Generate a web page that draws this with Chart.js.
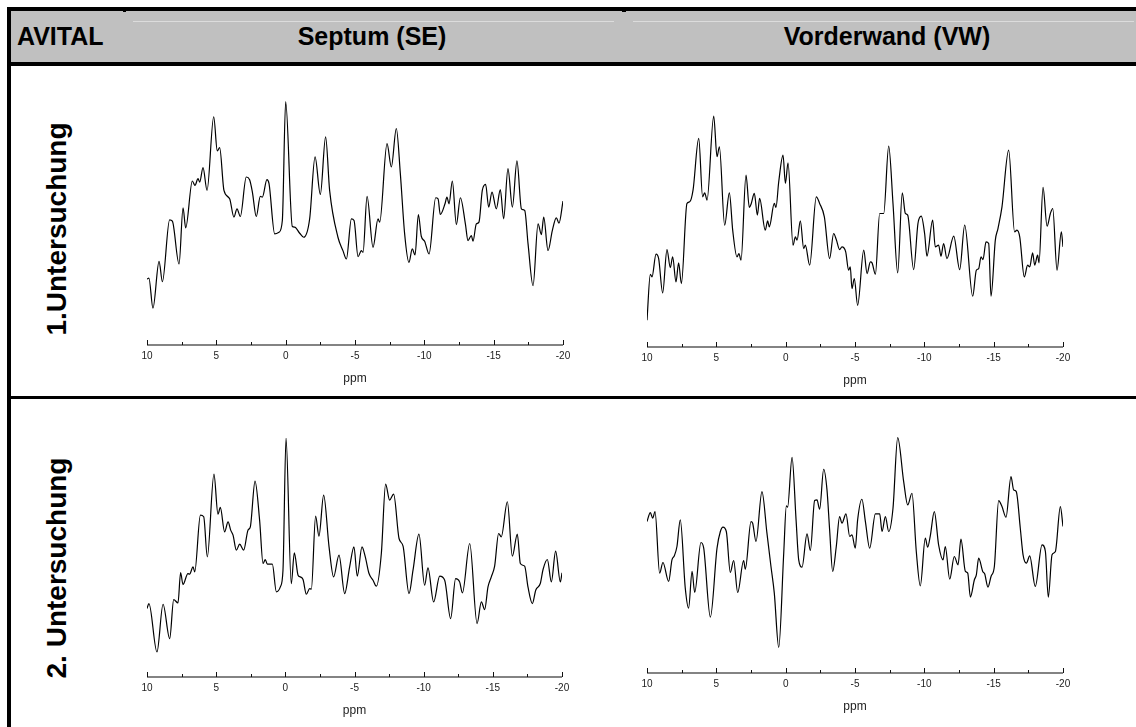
<!DOCTYPE html>
<html>
<head>
<meta charset="utf-8">
<title>AVITAL Spektren</title>
<script src="https://cdn.jsdelivr.net/npm/chart.js@4.4.0/dist/chart.umd.min.js"></script>
<style>
body { margin:0; width:1136px; height:727px; background:#fff; position:relative; overflow:hidden;
       font-family:"Liberation Sans", Arial, sans-serif; }
.abs { position:absolute; }
.blk { position:absolute; background:#000; }
.head { position:absolute; font-weight:bold; font-size:25px; line-height:25px; color:#000; white-space:nowrap; }
.rowlbl { position:absolute; width:300px; height:28px; line-height:28px; font-size:28px; font-weight:bold;
          text-align:center; transform:rotate(-90deg); white-space:nowrap; }
canvas { position:absolute; }
</style>
</head>
<body>

<!-- table frame -->
<div class="abs" style="left:11px;top:11px;width:1125px;height:51px;background:#c0c0c0"></div>
<div class="abs" style="left:133px;top:21px;width:481px;height:1px;background:#dcdcdc"></div>
<div class="abs" style="left:633px;top:21px;width:501px;height:1px;background:#dcdcdc"></div>
<div class="blk" style="left:7px;top:7px;width:1129px;height:4px"></div>
<div class="blk" style="left:123px;top:11px;width:3px;height:1px"></div>
<div class="blk" style="left:622px;top:11px;width:4px;height:1px"></div>
<div class="blk" style="left:7px;top:62px;width:1129px;height:4px"></div>
<div class="blk" style="left:7px;top:7px;width:4px;height:720px"></div>
<div class="blk" style="left:11px;top:396px;width:1125px;height:3px"></div>

<div id="hdr"></div>
<div id="rows"></div>

<canvas id="c1"></canvas>
<canvas id="c2"></canvas>
<canvas id="c3"></canvas>
<canvas id="c4"></canvas>

<script>
// header / row texts
var title = 'AVITAL';
var columns = ['Septum (SE)', 'Vorderwand (VW)'];
var rows = ['1.Untersuchung', '2. Untersuchung'];

// 1. Untersuchung, Septum  (ppm / intensity)
var ppmSE1 = [10.00, 9.86, 9.57, 9.13, 8.89, 8.37, 8.17, 7.69, 7.40, 7.21, 6.73, 6.54, 6.32, 6.20, 5.96, 5.67, 5.19, 4.93, 4.76, 4.45,
  4.04, 3.73, 3.51, 3.27, 2.84, 2.60, 2.40, 2.12, 1.83, 1.68, 1.35, 1.20, 0.79, 0.48, 0.24, 0.00, -0.48, -0.65, -1.01, -1.30,
  -1.73, -2.12, -2.50, -2.88, -3.17, -3.77, -4.13, -4.38, -4.74, -4.93, -5.22, -5.46, -5.58, -5.87, -6.30, -6.66, -6.78, -7.31, -7.62, -7.98,
  -8.27, -8.58, -8.89, -9.13, -9.33, -9.57, -9.78, -10.02, -10.34, -10.82, -10.99, -11.15, -11.49, -11.63, -11.78, -12.02, -12.31, -12.60, -12.96, -13.15,
  -13.39, -13.51, -13.75, -13.94, -14.18, -14.42, -14.64, -14.88, -15.19, -15.48, -15.72, -16.03, -16.35, -16.68, -17.00, -17.24, -17.48, -17.84, -18.20, -18.44,
  -18.61, -18.92, -19.23, -19.52, -19.71, -20.00];
var valSE1 = [13.5, 13.8, 4.8, 18.8, 12.7, 31.2, 30.8, 18.0, 34.8, 28.8, 42.8, 41.5, 43.5, 42.5, 46.8, 40.0, 62.0, 51.8, 52.8, 40.0,
  37.5, 32.0, 34.5, 32.2, 44.0, 43.2, 39.5, 32.2, 38.2, 38.0, 43.2, 42.0, 27.0, 27.5, 31.0, 66.5, 29.2, 29.0, 27.2, 26.0,
  31.5, 50.0, 38.8, 56.0, 40.0, 26.0, 22.0, 19.5, 31.5, 31.0, 20.2, 22.0, 21.5, 38.2, 23.0, 31.5, 30.5, 54.0, 47.0, 58.5,
  45.0, 27.0, 18.5, 22.5, 20.7, 32.8, 26.3, 24.8, 21.0, 37.8, 37.5, 32.8, 36.0, 38.0, 36.0, 42.8, 29.8, 37.8, 30.0, 25.0,
  26.5, 24.8, 30.0, 30.5, 40.0, 41.8, 35.0, 39.5, 34.5, 40.2, 31.5, 46.5, 35.0, 48.8, 34.5, 34.0, 24.0, 11.5, 30.0, 26.8,
  32.0, 22.0, 28.0, 31.8, 30.2, 36.8];

// 1. Untersuchung, Vorderwand
var ppmVW1 = [10.00, 9.76, 9.64, 9.35, 9.16, 8.87, 8.56, 8.32, 8.15, 7.91, 7.72, 7.52, 7.12, 6.92, 6.68, 6.27, 5.99, 5.84, 5.67, 5.19,
  4.95, 4.78, 4.40, 4.06, 3.82, 3.51, 3.37, 3.22, 2.86, 2.62, 2.48, 2.26, 2.04, 1.88, 1.47, 1.30, 1.18, 0.82, 0.70, 0.50,
  0.19, 0.02, -0.17, -0.53, -0.70, -0.82, -1.06, -1.30, -1.42, -1.73, -2.21, -2.45, -2.79, -3.17, -3.46, -3.65, -3.89, -4.06, -4.33, -4.54,
  -4.66, -4.78, -4.95, -5.19, -5.63, -5.87, -6.11, -6.23, -6.47, -6.78, -7.07, -7.43, -7.74, -8.08, -8.41, -8.63, -8.80, -9.23, -9.54, -9.78,
  -10.02, -10.19, -10.60, -10.79, -11.03, -11.20, -11.39, -11.63, -12.12, -12.55, -12.91, -13.49, -13.75, -13.92, -14.09, -14.23, -14.45, -14.64, -14.81, -15.12,
  -15.31, -15.60, -16.08, -16.51, -16.68, -16.88, -17.21, -17.45, -17.60, -17.81, -17.96, -18.17, -18.27, -18.56, -18.85, -19.09, -19.26, -19.57, -19.88, -20.00];
var valVW1 = [4.0, 17.8, 17.0, 23.8, 22.5, 12.2, 25.2, 19.8, 23.0, 15.5, 21.2, 15.0, 39.0, 39.5, 43.0, 58.5, 41.0, 42.2, 40.0, 65.2,
  53.0, 56.0, 32.5, 42.2, 31.0, 23.0, 24.0, 22.0, 47.5, 37.8, 39.0, 42.0, 35.5, 40.5, 31.0, 33.8, 32.0, 39.0, 37.8, 45.5,
  53.5, 45.0, 51.2, 26.5, 29.0, 28.0, 33.8, 25.5, 26.5, 20.5, 41.0, 39.0, 35.0, 22.5, 30.0, 28.2, 25.2, 26.0, 24.5, 19.0,
  20.0, 13.5, 16.5, 8.5, 25.0, 18.0, 21.5, 21.2, 17.8, 36.0, 36.0, 56.2, 39.0, 18.2, 42.2, 36.0, 35.5, 19.2, 33.0, 35.2,
  30.0, 23.2, 34.0, 26.0, 26.5, 23.2, 27.0, 22.5, 29.2, 19.2, 32.5, 11.2, 19.0, 19.5, 23.0, 22.2, 27.5, 27.0, 11.2, 28.0,
  31.5, 38.0, 55.0, 30.5, 31.0, 29.0, 17.0, 20.5, 20.0, 24.2, 20.5, 23.5, 21.2, 43.8, 32.2, 36.0, 37.5, 19.0, 30.5, 26.0];

// 2. Untersuchung, Septum
var ppmSE2 = [10.00, 9.86, 9.28, 8.84, 8.36, 8.07, 7.76, 7.57, 7.40, 7.04, 6.92, 6.67, 6.55, 6.14, 5.90, 5.64, 5.16, 4.87, 4.70, 4.39,
  4.14, 3.95, 3.78, 3.54, 3.30, 3.01, 2.70, 2.53, 2.19, 1.86, 1.61, 1.45, 1.30, 0.94, 0.65, 0.36, 0.17, -0.05, -0.43, -0.65,
  -0.92, -1.08, -1.28, -1.52, -1.76, -1.88, -2.19, -2.43, -2.77, -3.16, -3.49, -3.88, -4.29, -4.65, -4.96, -5.20, -5.54, -5.78, -6.05, -6.34,
  -6.58, -6.94, -7.25, -7.54, -7.83, -8.22, -8.51, -8.94, -9.23, -9.66, -10.07, -10.31, -10.72, -11.16, -11.52, -11.95, -12.31, -12.60, -12.80, -13.33,
  -13.86, -14.17, -14.41, -14.65, -14.89, -15.13, -15.42, -15.61, -16.05, -16.41, -16.77, -16.99, -17.30, -17.54, -17.86, -18.10, -18.43, -18.63, -18.94, -19.23,
  -19.54, -19.88, -20.00];
var valSE2 = [13.5, 15.0, 0.5, 14.8, 4.5, 16.2, 15.2, 24.3, 20.7, 24.0, 23.8, 26.0, 24.5, 41.5, 41.0, 29.0, 53.8, 41.8, 43.8, 36.5,
  39.5, 37.0, 35.5, 31.0, 32.8, 31.0, 37.0, 38.0, 51.7, 40.0, 27.0, 28.2, 26.8, 26.8, 18.5, 20.0, 25.0, 64.5, 21.0, 30.2,
  23.5, 23.0, 22.2, 17.8, 19.5, 19.3, 41.2, 35.2, 47.5, 32.0, 23.0, 29.5, 18.0, 26.0, 32.0, 23.2, 32.0, 29.0, 24.0, 22.0,
  20.2, 30.0, 50.8, 46.0, 47.8, 34.5, 32.2, 18.0, 25.0, 35.8, 20.5, 25.7, 15.5, 23.2, 22.0, 10.5, 22.5, 21.5, 18.2, 33.0,
  9.0, 15.5, 13.2, 20.0, 23.0, 26.2, 36.0, 35.0, 45.5, 29.2, 35.8, 27.0, 26.2, 20.0, 15.0, 19.0, 21.0, 25.2, 28.2, 21.5,
  30.7, 21.5, 24.2];

// 2. Untersuchung, Vorderwand
var ppmVW2 = [10.00, 9.76, 9.59, 9.42, 9.09, 8.85, 8.44, 8.20, 8.03, 7.84, 7.60, 7.24, 7.00, 6.75, 6.56, 6.11, 5.91, 5.43, 4.95, 4.71,
  4.52, 4.28, 3.99, 3.75, 3.46, 3.03, 2.91, 2.50, 2.38, 2.14, 1.71, 1.35, 1.06, 0.82, 0.50, 0.14, -0.05, -0.14, -0.46, -0.75,
  -0.94, -1.18, -1.54, -1.78, -2.09, -2.26, -2.45, -2.74, -2.98, -3.17, -3.39, -3.65, -3.89, -4.06, -4.35, -4.62, -4.78, -5.02, -5.19, -5.50,
  -5.75, -6.06, -6.47, -6.78, -6.95, -7.19, -7.43, -7.74, -8.08, -8.51, -8.80, -9.11, -9.42, -9.71, -10.07, -10.24, -10.43, -10.72, -11.03, -11.35,
  -11.51, -11.83, -12.16, -12.43, -12.64, -12.96, -13.13, -13.32, -13.61, -13.75, -13.92, -14.21, -14.35, -14.59, -14.81, -15.05, -15.36, -15.60, -15.89, -16.25,
  -16.44, -16.63, -16.92, -17.12, -17.36, -17.60, -18.00, -18.49, -18.73, -18.94, -19.21, -19.45, -19.81, -20.00];
var valVW2 = [39.5, 42.2, 40.5, 42.5, 24.0, 27.2, 21.5, 28.0, 29.2, 32.0, 40.0, 19.5, 13.5, 24.5, 18.2, 33.2, 31.5, 10.8, 31.5, 36.5,
  37.8, 36.5, 24.2, 27.8, 18.2, 27.8, 25.2, 39.5, 39.0, 33.5, 48.5, 36.0, 26.0, 18.0, 1.7, 30.0, 44.2, 43.8, 58.8, 40.0,
  28.0, 25.8, 35.8, 30.8, 45.8, 46.0, 43.2, 55.2, 49.0, 37.0, 24.5, 32.0, 41.0, 39.0, 41.8, 35.0, 35.5, 31.5, 40.0, 46.2,
  39.5, 31.5, 41.8, 41.8, 36.5, 41.0, 36.5, 43.5, 64.7, 51.5, 44.5, 48.0, 30.5, 20.2, 34.5, 31.8, 35.2, 42.5, 32.5, 28.0,
  32.0, 22.2, 29.0, 26.5, 34.2, 24.5, 24.0, 16.8, 22.0, 23.5, 28.5, 24.5, 23.8, 19.8, 23.0, 26.0, 45.8, 44.0, 40.8, 53.0,
  49.0, 48.5, 37.5, 29.5, 27.0, 29.2, 20.0, 32.5, 30.5, 16.8, 29.5, 30.5, 44.0, 38.0];

// where every panel's plot area sits on the page
var panels = [
  {id:'c1', ppm:ppmSE1, val:valSE1, left:147, right:563, top:90,  bottom:344.7, yMin:-6.2, yMax:70},
  {id:'c2', ppm:ppmVW1, val:valVW1, left:647, right:1063, top:100, bottom:346.7, yMin:-4.0, yMax:70},
  {id:'c3', ppm:ppmSE2, val:valSE2, left:147, right:562, top:420, bottom:676.7, yMin:-7.0, yMax:70},
  {id:'c4', ppm:ppmVW2, val:valVW2, left:647, right:1063, top:420, bottom:673.3, yMin:-6.0, yMax:70}
];

var PAD_X = 20, PAD_TOP = 10, AXIS_H = 45;
var FONT = '"Liberation Sans", Arial, sans-serif';

// header
var hdr = document.getElementById('hdr');
hdr.innerHTML =
  '<div class="head" style="left:17px;top:24px">' + title + '</div>' +
  '<div class="head" style="left:222px;top:24px;width:300px;text-align:center">' + columns[0] + '</div>' +
  '<div class="head" style="left:737px;top:24px;width:300px;text-align:center">' + columns[1] + '</div>';

// row labels, rotated
var rowBox = document.getElementById('rows');
var rowCenters = [228.5, 567.5];
rows.forEach(function(r, i) {
  var d = document.createElement('div');
  d.className = 'rowlbl';
  d.textContent = r;
  d.style.left = (57 - 150) + 'px';
  d.style.top = (rowCenters[i] - 14) + 'px';
  rowBox.appendChild(d);
});

// axis line + major/minor ticks pointing up into the plot
var ppmAxis = {
  id: 'ppmAxis',
  afterDraw: function(chart) {
    var ctx = chart.ctx, xs = chart.scales.x, y0 = chart.chartArea.bottom;
    ctx.save();
    ctx.strokeStyle = '#5a5a5a';
    ctx.lineWidth = 1.5;
    ctx.beginPath();
    ctx.moveTo(xs.getPixelForValue(10), y0);
    ctx.lineTo(xs.getPixelForValue(-20), y0);
    ctx.stroke();
    ctx.strokeStyle = '#111';
    ctx.lineWidth = 1;
    for (var v = 10; v >= -20; v -= 2.5) {
      var px = Math.round(xs.getPixelForValue(v)) + 0.5;
      var len = (v % 5 === 0) ? 5 : 3;
      ctx.beginPath();
      ctx.moveTo(px, y0);
      ctx.lineTo(px, y0 - len);
      ctx.stroke();
    }
    ctx.restore();
  }
};

panels.forEach(function(p) {
  var el = document.getElementById(p.id);
  var w = Math.round(p.right - p.left + 2 * PAD_X);
  var h = Math.round(p.bottom - p.top + PAD_TOP + AXIS_H);
  el.width = w; el.height = h;
  el.style.left = (p.left - PAD_X) + 'px';
  el.style.top = (p.top - PAD_TOP) + 'px';
  el.style.width = w + 'px'; el.style.height = h + 'px';

  new Chart(el, {
    type: 'line',
    data: {
      datasets: [{
        data: p.ppm.map(function(x, i) { return {x: x, y: p.val[i]}; }),
        borderColor: '#000',
        borderWidth: 1.2,
        pointRadius: 0,
        fill: false,
        cubicInterpolationMode: 'monotone'
      }]
    },
    options: {
      responsive: false,
      animation: false,
      devicePixelRatio: 1,
      layout: { padding: { left: PAD_X, right: PAD_X, top: PAD_TOP, bottom: 0 } },
      plugins: { legend: { display: false }, tooltip: { enabled: false } },
      scales: {
        x: {
          type: 'linear', reverse: true, min: -20, max: 10,
          grid: { display: false, drawTicks: false },
          border: { display: false },
          ticks: { stepSize: 5, padding: 5, color: '#222', maxRotation: 0, autoSkip: false,
                   font: { size: 10, family: FONT } },
          title: { display: true, text: 'ppm', color: '#222', font: { size: 12, family: FONT },
                   padding: { top: 4, bottom: 4 } },
          afterFit: function(s) { s.height = AXIS_H; }
        },
        y: { display: false, min: p.yMin, max: p.yMax }
      }
    },
    plugins: [ppmAxis]
  });
});
</script>
</body>
</html>
